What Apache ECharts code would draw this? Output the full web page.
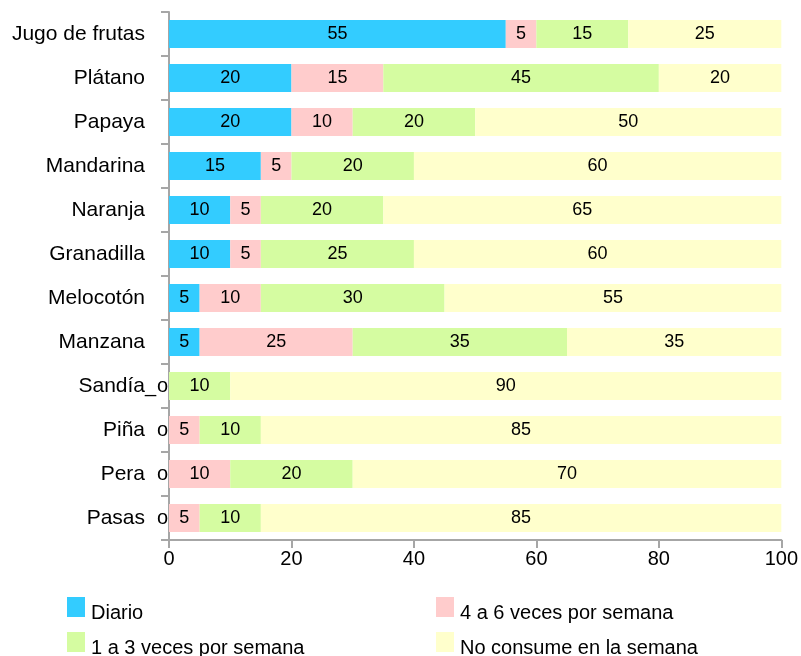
<!DOCTYPE html>
<html>
<head>
    <meta charset="utf-8">
    <title>Consumo de frutas</title>
    <script src="https://cdn.jsdelivr.net/npm/echarts@6/dist/echarts.min.js"></script>
    <style>
        body { margin: 0; background: #fff; }
        #chart { width: 801px; height: 656px; }
    </style>
</head>
<body>
    <div id="chart"></div>
    <script type="text/javascript">
        var categories = ['Jugo de frutas', 'Plátano', 'Papaya', 'Mandarina', 'Naranja', 'Granadilla',
                          'Melocotón', 'Manzana', 'Sandía', 'Piña', 'Pera', 'Pasas'];
        var diario     = [55, 20, 20, 15, 10, 10, 5, 5, 0, 0, 0, 0];
        var cuatroSeis = [5, 15, 10, 5, 5, 5, 10, 25, 0, 5, 10, 5];
        var unoTres    = [15, 45, 20, 20, 20, 25, 30, 35, 10, 10, 20, 10];
        var noConsume  = [25, 20, 50, 60, 65, 60, 55, 35, 90, 85, 70, 85];
        var seriesNames = ['Diario', '4 a 6 veces por semana', '1 a 3 veces por semana', 'No consume en la semana'];
        var xTicks = [0, 20, 40, 60, 80, 100];

        var font = "'Liberation Sans', Arial, sans-serif";
        var colors = ['#33ccff', '#ffcccc', '#d5fca1', '#ffffcc'];

        // los ceros se ven como marcas a la izquierda del eje
        function items(arr, zeroText, zeroDist) {
            return arr.map(function (v) {
                if (v !== 0) return v;
                if (!zeroText) return { value: v, label: { show: false } };
                return { value: v, label: { show: true, position: 'left', distance: zeroDist, fontSize: 20, formatter: zeroText } };
            });
        }

        function makeSeries(i, arr, zeroText, zeroDist) {
            return {
                name: seriesNames[i],
                type: 'bar',
                stack: 'total',
                barWidth: 28,
                data: items(arr, zeroText, zeroDist),
                itemStyle: { color: colors[i] },
                label: {
                    show: true,
                    position: 'inside',
                    color: '#000',
                    fontFamily: font,
                    fontSize: 18
                }
            };
        }

        function legendAt(name, left, top) {
            return {
                data: [name],
                left: left,
                top: top,
                icon: 'rect',
                itemWidth: 18,
                itemHeight: 20,
                itemGap: 0,
                padding: 0,
                selectedMode: false,
                formatter: '{t|{name}}',
                textStyle: {
                    rich: {
                        t: { fontFamily: font, fontSize: 20, color: '#000', padding: [12, 0, 0, 1] }
                    }
                }
            };
        }

        var chart = echarts.init(document.getElementById('chart'));
        chart.setOption({
            animation: false,
            color: colors,
            legend: [
                legendAt(seriesNames[0], 67, 597),
                legendAt(seriesNames[1], 436, 597),
                legendAt(seriesNames[2], 67, 632),
                legendAt(seriesNames[3], 436, 632)
            ],
            grid: { left: 169, right: 18, top: 12, bottom: 116, containLabel: false },
            xAxis: {
                type: 'value',
                min: xTicks[0],
                max: xTicks[xTicks.length - 1],
                interval: xTicks[1] - xTicks[0],
                axisLine: { show: true, lineStyle: { color: '#a6a6a6', width: 2 } },
                axisTick: { show: true, length: 8, lineStyle: { color: '#a6a6a6', width: 2 } },
                splitLine: { show: false },
                axisLabel: { color: '#000', fontFamily: font, fontSize: 20, margin: 9 }
            },
            yAxis: {
                type: 'category',
                inverse: true,
                data: categories,
                axisLine: { show: true, lineStyle: { color: '#a6a6a6', width: 2 } },
                axisTick: { show: true, length: 8, lineStyle: { color: '#a6a6a6', width: 2 } },
                axisLabel: { color: '#000', fontFamily: font, fontSize: 21, margin: 24 }
            },
            series: [
                makeSeries(0, diario, 'o', 1),
                makeSeries(1, cuatroSeis, '_', 13),
                makeSeries(2, unoTres),
                makeSeries(3, noConsume)
            ]
        });
    </script>
</body>
</html>
